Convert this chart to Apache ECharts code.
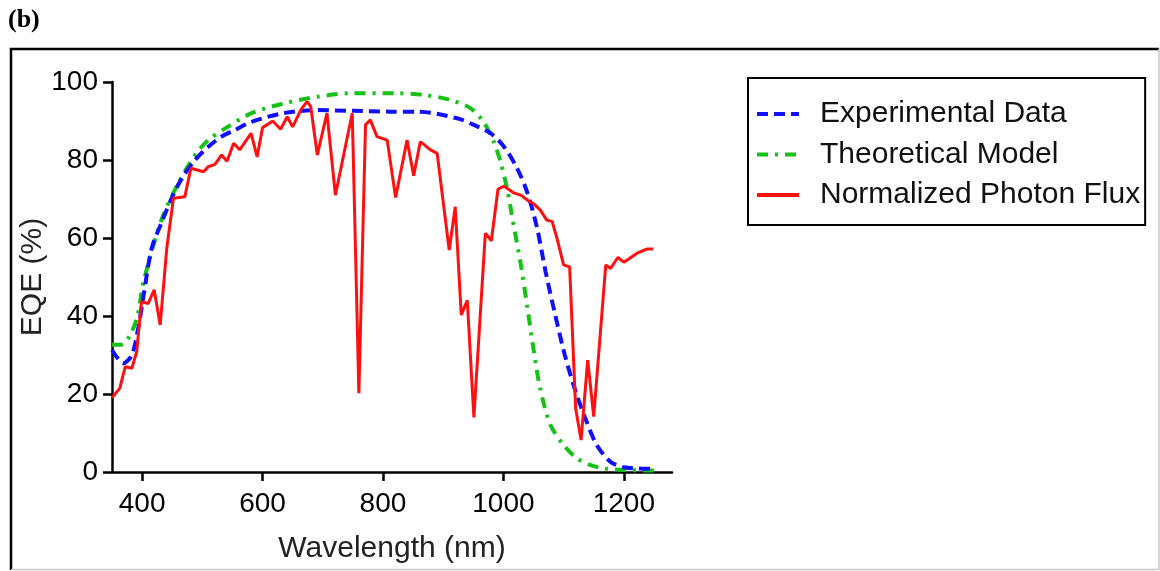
<!DOCTYPE html>
<html>
<head>
<meta charset="utf-8">
<script src="https://cdn.jsdelivr.net/npm/echarts@6/dist/echarts.min.js"></script>
<style>
html,body{margin:0;padding:0;background:#fff;}
#chart{width:1160px;height:571px;}
</style>
</head>
<body>
<div id="chart"></div>
<script>
// Data
const seriesNames = ['Experimental Data', 'Theoretical Model', 'Normalized Photon Flux'];
const xTicks = [400, 600, 800, 1000, 1200];
const yTicks = [0, 20, 40, 60, 80, 100];

const expWavelength = [350, 369, 383, 394, 403, 416, 433, 449, 466, 488, 510, 532, 554, 582, 635, 691, 750, 812, 857, 923, 951, 979, 1001, 1023, 1040, 1056, 1070, 1086, 1102, 1120, 1136, 1155, 1178, 1200, 1225, 1250];
const expEQE = [31.3, 27.9, 30, 37.3, 45.8, 57.4, 64.2, 70.2, 75.3, 80, 83.4, 86, 87.7, 89.8, 92, 92.8, 92.6, 92.4, 92.4, 90.7, 89, 86.8, 83.4, 77.8, 71.5, 62.5, 51.4, 40.3, 30, 20.6, 13.8, 6.9, 2.6, 1.2, 0.9, 0.8];

const theoWavelength = [350, 367, 380, 392, 403, 433, 460, 488, 510, 538, 582, 635, 691, 746, 821, 868, 912, 945, 967, 984, 995, 1006, 1017, 1029, 1040, 1051, 1061, 1078, 1100, 1122, 1144, 1167, 1200, 1250];
const theoEQE = [32.6, 32.7, 35.1, 39.8, 49.2, 65, 74, 81.3, 85.1, 88.1, 92, 94.5, 96.2, 97.1, 97.1, 96.7, 95.4, 93.3, 89.8, 84.7, 79.6, 72.7, 63.3, 53.1, 42, 30.5, 21.5, 12.1, 6.9, 3.5, 1.8, 0.9, 0.5, 0.4];

const fluxWavelength = [350, 363, 372, 383, 391, 399, 410, 420, 430, 441, 452, 471, 481, 502, 510, 521, 532, 541, 552, 562, 581, 591, 600, 617, 630, 641, 650, 664, 674, 680, 691, 707, 721, 749, 760, 771, 779, 790, 807, 821, 840, 851, 862, 879, 890, 910, 920, 930, 940, 951, 970, 980, 991, 1001, 1018, 1029, 1042, 1051, 1061, 1072, 1081, 1089, 1100, 1110, 1120, 1129, 1140, 1150, 1170, 1178, 1190, 1200, 1222, 1239, 1249];
const fluxValue = [19, 21.5, 27, 26.6, 30.8, 43.7, 43.2, 46.7, 37.7, 57.4, 70.2, 70.6, 77.9, 77, 78.3, 78.9, 81.3, 79.7, 84.3, 82.6, 86.8, 80.8, 88.3, 90, 87.9, 91.1, 88.5, 93, 95, 93.7, 81.3, 92, 71, 92, 20.2, 89, 90.3, 86, 85.1, 70.4, 85.1, 76, 84.7, 82.6, 81.7, 56.9, 68, 40.3, 44, 14, 61.2, 59.3, 72.5, 73.3, 71.5, 71, 69.5, 68.7, 67.2, 64.6, 64.2, 59.9, 53.1, 52.6, 16.3, 8.2, 28.7, 14.2, 53.1, 52.2, 55, 53.8, 56.1, 57.2, 57.2];

const pairs = (xs, ys) => xs.map((x, i) => [x, ys[i]]);
const FONT = '"Liberation Sans", Arial, Helvetica, sans-serif';

const chart = echarts.init(document.getElementById('chart'), null, {renderer: 'canvas'});
chart.setOption({
  backgroundColor: '#ffffff',
  animation: false,
  graphic: [
    {type: 'text', left: 8, top: 7, style: {text: '(b)', font: 'bold 26px "Liberation Serif", "Times New Roman", serif', fill: '#000'}},
    {type: 'polyline', shape: {points: [[11, 570], [11, 49], [1159, 49]]}, style: {stroke: '#000', lineWidth: 2.5, fill: null}},
    {type: 'polyline', shape: {points: [[1159, 49], [1159, 569.5], [11, 569.5]]}, style: {stroke: '#c8c8c8', lineWidth: 1.5, fill: null}}
  ],
  legend: {
    left: 748, top: 78,
    orient: 'vertical',
    data: seriesNames,
    itemWidth: 42, itemHeight: 14,
    itemGap: 10.5,
    padding: [21, 5, 15, 7],
    borderColor: '#000', borderWidth: 2,
    selectedMode: false,
    itemStyle: {opacity: 0},
    lineStyle: {width: 4},
    textStyle: {fontFamily: FONT, fontSize: 30, color: '#111', padding: [0, 0, 0, 16]}
  },
  grid: {left: 112, top: 82, width: 560, height: 390, containLabel: false},
  xAxis: {
    type: 'value', min: 350, max: 1280,
    name: 'Wavelength (nm)', nameLocation: 'middle', nameGap: 62,
    nameTextStyle: {fontFamily: FONT, fontSize: 30, color: '#222'},
    axisLine: {lineStyle: {color: '#000', width: 2.5}},
    axisTick: {show: true, length: 9, lineStyle: {color: '#000', width: 2.5}, customValues: xTicks},
    axisLabel: {fontFamily: FONT, fontSize: 28, color: '#000', margin: 18, customValues: xTicks, formatter: v => String(v)},
    splitLine: {show: false}
  },
  yAxis: {
    type: 'value', min: 0, max: 100, interval: 20,
    name: 'EQE (%)', nameLocation: 'middle', nameGap: 60, nameRotate: 90,
    nameTextStyle: {fontFamily: FONT, fontSize: 30, color: '#222'},
    axisLine: {show: true, lineStyle: {color: '#000', width: 2.5}},
    axisTick: {show: true, length: 9, lineStyle: {color: '#000', width: 2.5}},
    axisLabel: {fontFamily: FONT, fontSize: 28, color: '#000', margin: 14, formatter: v => String(v)},
    splitLine: {show: false}
  },
  series: [
    {
      name: 'Theoretical Model', type: 'line', data: pairs(theoWavelength, theoEQE),
      symbol: 'none', smooth: 0.3, z: 2,
      lineStyle: {color: '#16c216', width: 4, type: [11, 7, 3, 7]},
      itemStyle: {color: '#16c216'}
    },
    {
      name: 'Experimental Data', type: 'line', data: pairs(expWavelength, expEQE),
      symbol: 'none', smooth: 0.3, z: 3,
      lineStyle: {color: '#1010ff', width: 4, type: [11, 6]},
      itemStyle: {color: '#1010ff'}
    },
    {
      name: 'Normalized Photon Flux', type: 'line', data: pairs(fluxWavelength, fluxValue),
      symbol: 'none', smooth: false, z: 4,
      lineStyle: {color: '#ff1010', width: 3},
      itemStyle: {color: '#ff1010'}
    }
  ]
});
</script>
</body>
</html>
